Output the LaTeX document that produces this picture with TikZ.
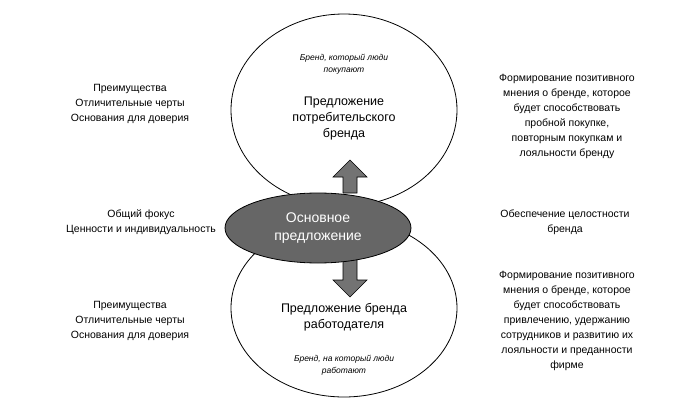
\documentclass[tikz,border=0pt]{standalone}
\usepackage{fontspec}
\setmainfont{Liberation Sans}
\usetikzlibrary{shapes.geometric}
\begin{document}
\begin{tikzpicture}[x=1pt,y=-1pt,
  side/.style={align=center,font=\fontsize{10.5}{15}\selectfont},
  main/.style={align=center,font=\fontsize{12.5}{16}\selectfont},
  small/.style={align=center,font=\fontsize{8.5}{11.5}\selectfont\itshape},
  arr/.style={fill=black!55,draw=black,line width=0.6pt}]
\useasboundingbox (0,0) rectangle (678,420);
\node[ellipse,draw,line width=0.8pt,minimum width=226pt,minimum height=192pt] (top) at (344,110) {};
\node[ellipse,draw,line width=0.8pt,minimum width=226pt,minimum height=178pt] (bot) at (344,308) {};
\draw[arr] (343,193)--(343,177)--(333,177)--(350,160)--(367,177)--(357,177)--(357,193)--cycle;
\draw[arr] (343,258)--(343,280)--(333,280)--(350,297)--(367,280)--(357,280)--(357,258)--cycle;
\node[ellipse,fill=black!60,draw=black,line width=0.8pt,minimum width=186pt,minimum height=70pt,text=white,align=center,font=\fontsize{14}{18}\selectfont] (core) at (318,228) {Основное\\предложение};
\node[small] (tb) at (344,64) {Бренд, который люди\\покупают};
\node[main] (tt) at (344,118) {Предложение\\потребительского\\бренда};
\node[main] (bt) at (344,317) {Предложение бренда\\работодателя};
\node[small] (bb) at (344,365) {Бренд, на который люди\\работают};
\node[side] (l1) at (130,104) {Преимущества\\Отличительные черты\\Основания для доверия};
\node[side] (l2) at (141,222) {Общий фокус\\Ценности и индивидуальность};
\node[side] (l3) at (130,321) {Преимущества\\Отличительные черты\\Основания для доверия};
\node[side] (r1) at (567,116) {Формирование позитивного\\мнения о бренде, которое\\будет способствовать\\пробной покупке,\\повторным покупкам и\\лояльности бренду};
\node[side] (r2) at (565,222) {Обеспечение целостности\\бренда};
\node[side] (r3) at (567,321) {Формирование позитивного\\мнения о бренде, которое\\будет способствовать\\привлечению, удержанию\\сотрудников и развитию их\\лояльности и преданности\\фирме};
\end{tikzpicture}
\end{document}
